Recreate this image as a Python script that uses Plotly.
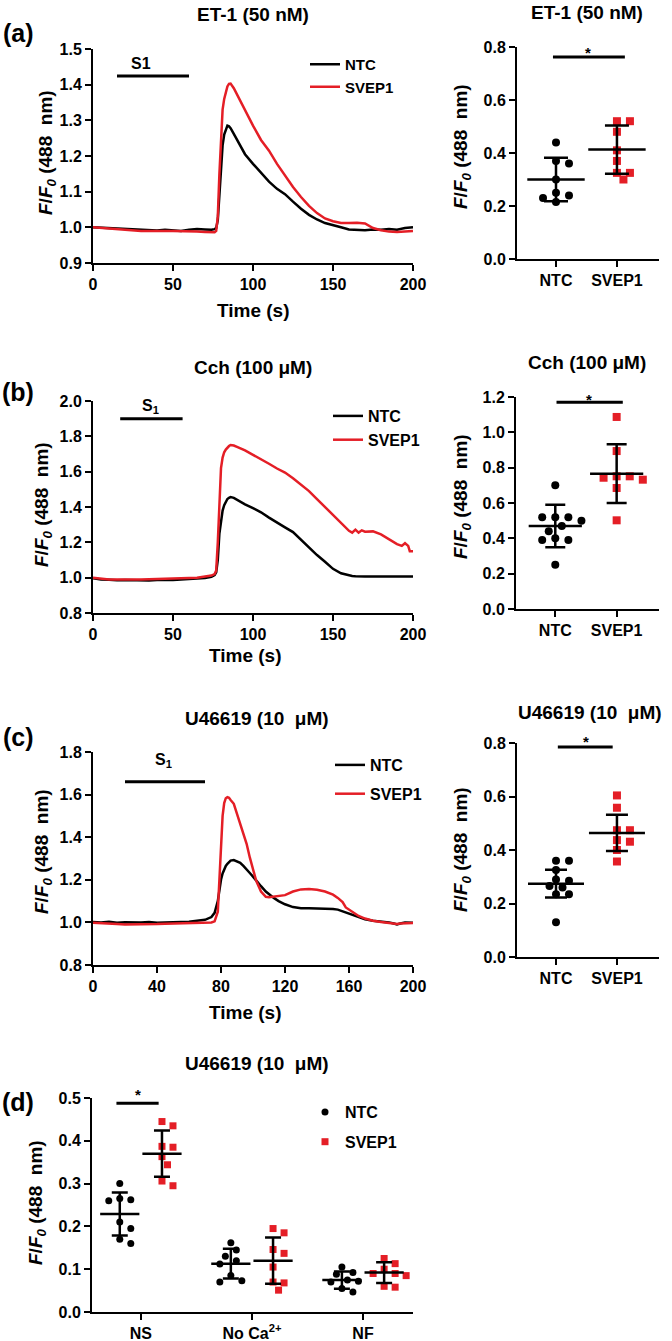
# Calcium traces (a-c) and peak responses (a-d), NTC vs SVEP1
import plotly.graph_objects as go

# ---------------------------------------------------------------------------
# Data
# ---------------------------------------------------------------------------
a_time = [0, 5, 10, 15, 20, 25, 30, 35, 40, 45, 50, 55, 60, 65, 70, 74, 76, 77, 78, 79,
          80, 81, 82, 83, 84, 85, 86, 88, 90, 92, 95, 100, 105, 110, 115, 120, 125, 130,
          135, 140, 145, 150, 155, 160, 165, 170, 175, 180, 185, 190, 195, 200]
a_ntc = [1.000, 0.999, 0.997, 0.997, 0.995, 0.993, 0.992, 0.992, 0.991, 0.993, 0.992,
         0.990, 0.993, 0.995, 0.994, 0.993, 0.995, 0.998, 1.020, 1.100, 1.180, 1.230,
         1.260, 1.275, 1.285, 1.283, 1.278, 1.262, 1.245, 1.228, 1.205, 1.178, 1.152,
         1.128, 1.108, 1.093, 1.072, 1.052, 1.035, 1.022, 1.012, 1.005, 1.000, 0.994,
         0.993, 0.992, 0.994, 0.993, 0.995, 0.993, 0.998, 1.000]
a_svep1 = [1.000, 0.998, 0.996, 0.994, 0.992, 0.991, 0.990, 0.990, 0.989, 0.990, 0.990,
           0.990, 0.989, 0.988, 0.987, 0.985, 0.986, 0.990, 1.030, 1.150, 1.260, 1.330,
           1.360, 1.380, 1.395, 1.402, 1.403, 1.390, 1.372, 1.355, 1.330, 1.285, 1.245,
           1.215, 1.178, 1.145, 1.113, 1.085, 1.060, 1.040, 1.025, 1.017, 1.012, 1.012,
           1.013, 1.011, 0.998, 0.992, 0.988, 0.987, 0.989, 0.990]

b_time = [0, 5, 10, 15, 20, 25, 30, 35, 40, 45, 50, 55, 60, 65, 70, 74, 76, 77, 78, 79,
          80, 81, 82, 83, 84, 85, 86, 88, 90, 92, 95, 100, 105, 110, 115, 120, 125, 130,
          135, 140, 145, 150, 155, 160, 162, 164, 166, 168, 170, 175, 180, 185, 190, 193,
          195, 197, 198, 200]
b_ntc = [0.997, 0.990, 0.988, 0.985, 0.987, 0.985, 0.986, 0.984, 0.987, 0.985, 0.987,
         0.990, 0.992, 0.995, 0.998, 1.005, 1.015, 1.030, 1.100, 1.250, 1.330, 1.380,
         1.410, 1.430, 1.445, 1.452, 1.456, 1.452, 1.440, 1.430, 1.415, 1.394, 1.370,
         1.340, 1.310, 1.285, 1.258, 1.215, 1.170, 1.128, 1.090, 1.050, 1.025, 1.012,
         1.010, 1.008, 1.007, 1.007, 1.007, 1.007, 1.007, 1.006, 1.007, 1.007, 1.006,
         1.007, 1.006, 1.006]
b_svep1 = [1.000, 0.993, 0.990, 0.990, 0.988, 0.990, 0.989, 0.990, 0.992, 0.991, 0.995,
           0.996, 0.998, 1.000, 1.005, 1.012, 1.020, 1.040, 1.200, 1.450, 1.620, 1.680,
           1.710, 1.725, 1.737, 1.745, 1.751, 1.748, 1.740, 1.733, 1.720, 1.695, 1.672,
           1.645, 1.618, 1.595, 1.563, 1.528, 1.490, 1.445, 1.400, 1.350, 1.305, 1.265,
           1.255, 1.272, 1.255, 1.268, 1.260, 1.262, 1.245, 1.215, 1.190, 1.180, 1.195,
           1.180, 1.150, 1.150]

c_time = [0, 5, 10, 15, 20, 25, 30, 35, 40, 45, 50, 55, 60, 65, 70, 74, 76, 78, 79, 80,
          81, 82, 83, 84, 85, 86, 88, 90, 92, 94, 96, 98, 100, 102, 105, 108, 110, 113,
          116, 120, 125, 130, 135, 140, 145, 150, 153, 156, 158, 160, 163, 166, 170, 175,
          180, 185, 188, 190, 192, 195, 200]
c_ntc = [1.002, 1.000, 1.003, 0.998, 1.001, 0.999, 1.000, 1.002, 0.998, 1.000, 1.001,
         1.000, 1.003, 1.008, 1.012, 1.025, 1.045, 1.100, 1.160, 1.200, 1.230, 1.250,
         1.265, 1.275, 1.283, 1.290, 1.293, 1.288, 1.280, 1.265, 1.250, 1.232, 1.215,
         1.195, 1.170, 1.145, 1.132, 1.115, 1.100, 1.085, 1.072, 1.067, 1.066, 1.066,
         1.065, 1.063, 1.060, 1.052, 1.046, 1.040, 1.030, 1.022, 1.015, 1.008, 1.005,
         1.000, 0.995, 0.990, 0.995, 1.000, 0.998]
c_svep1 = [0.998, 0.995, 0.993, 0.992, 0.990, 0.990, 0.992, 0.993, 0.992, 0.994, 0.995,
           0.996, 0.997, 0.998, 1.000, 1.000, 1.005, 1.050, 1.200, 1.380, 1.500, 1.560,
           1.583, 1.588, 1.585, 1.575, 1.557, 1.510, 1.463, 1.415, 1.369, 1.305, 1.243,
           1.195, 1.145, 1.120, 1.118, 1.120, 1.122, 1.128, 1.145, 1.155, 1.157, 1.153,
           1.145, 1.130, 1.115, 1.095, 1.070, 1.060, 1.045, 1.030, 1.018, 1.008, 1.002,
           0.998, 0.996, 0.993, 0.995, 0.997, 0.997]

groups = ['NTC', 'SVEP1']

a_pts_ntc = [0.44, 0.37, 0.36, 0.30, 0.25, 0.24, 0.23, 0.215]
a_pts_svep1 = [0.52, 0.52, 0.48, 0.41, 0.37, 0.325, 0.325, 0.30]
a_mean = [0.300, 0.413]
a_sd = [0.082, 0.091]

b_pts_ntc = [0.70, 0.52, 0.52, 0.52, 0.50, 0.47, 0.44, 0.40, 0.39, 0.39, 0.25]
b_pts_svep1 = [1.087, 0.894, 0.751, 0.751, 0.743, 0.732, 0.685, 0.502]
b_mean = [0.470, 0.766]
b_sd = [0.120, 0.166]

c_pts_ntc = [0.36, 0.36, 0.325, 0.29, 0.285, 0.265, 0.26, 0.235, 0.235, 0.13]
c_pts_svep1 = [0.604, 0.558, 0.474, 0.474, 0.437, 0.431, 0.40, 0.357]
c_mean = [0.274, 0.464]
c_sd = [0.052, 0.068]

d_conditions = ['NS', 'No Ca<sup>2+</sup>', 'NF']
d_pts_ntc = [
    [0.30, 0.265, 0.262, 0.26, 0.21, 0.195, 0.17, 0.16],
    [0.162, 0.145, 0.13, 0.12, 0.112, 0.085, 0.073, 0.07],
    [0.105, 0.092, 0.088, 0.075, 0.072, 0.07, 0.055, 0.047],
]
d_pts_svep1 = [
    [0.445, 0.435, 0.387, 0.385, 0.363, 0.344, 0.306, 0.295],
    [0.195, 0.185, 0.146, 0.137, 0.105, 0.070, 0.068, 0.051],
    [0.125, 0.113, 0.10, 0.09, 0.09, 0.085, 0.06, 0.058],
]
d_mean_ntc = [0.229, 0.113, 0.0745]
d_sd_ntc = [0.050, 0.035, 0.020]
d_mean_svep1 = [0.370, 0.120, 0.092]
d_sd_svep1 = [0.054, 0.054, 0.024]

# ---------------------------------------------------------------------------
# Helpers
# ---------------------------------------------------------------------------
W, H = 672, 1341
BLACK = '#000000'
RED = '#E41E26'
FONT = 'Liberation Sans, Arial, sans-serif'


def px(x):
    return x / W


def py(y):
    return 1 - y / H


def spread(vals, y_px, step, gap):
    # simple beeswarm: put each dot as close to the centre as it fits
    pts = []
    for v in vals:
        y = v * y_px
        for k in [0, 1, -1, 2, -2, 3, -3, 4, -4, 5, -5]:
            x = k * step
            if all((x - a) ** 2 + (y - b) ** 2 >= gap ** 2 for a, b in pts):
                break
        pts.append((x, y))
    return [a for a, b in pts]


axis_common = dict(
    showline=True, linecolor=BLACK, linewidth=2, ticks='outside', ticklen=6,
    tickwidth=2, tickcolor=BLACK, showgrid=False, zeroline=False, automargin=False,
    tickfont=dict(size=16, family=FONT, color=BLACK, weight='bold'),
)

fig = go.Figure()

# panel geometry in page pixels: (x0, x1, ytop, ybottom)
geom = {
    1: (93, 413, 49, 263),
    2: (517, 659, 47, 259),
    3: (93, 413, 401, 613),
    4: (516, 659, 397, 609),
    5: (93, 413, 752, 965),
    6: (517, 659, 743, 957),
    7: (92, 413, 1098, 1312),
}
y_ranges = {1: [0.9, 1.5], 2: [0, 0.8], 3: [0.8, 2.0], 4: [0, 1.2],
            5: [0.8, 1.8], 6: [0, 0.8], 7: [0, 0.5]}
y_dticks = {1: 0.1, 2: 0.2, 3: 0.2, 4: 0.2, 5: 0.2, 6: 0.2, 7: 0.1}

layout_axes = {}
for i, (x0, x1, yt, yb) in geom.items():
    xa = 'xaxis' if i == 1 else f'xaxis{i}'
    ya = 'yaxis' if i == 1 else f'yaxis{i}'
    layout_axes[xa] = dict(axis_common, domain=[px(x0), px(x1)],
                           anchor='y' if i == 1 else f'y{i}')
    layout_axes[ya] = dict(axis_common, domain=[py(yb), py(yt)],
                           anchor='x' if i == 1 else f'x{i}',
                           range=y_ranges[i], dtick=y_dticks[i], tickformat='.1f')

for i, dt in [(1, 50), (3, 50), (5, 40)]:
    xa = 'xaxis' if i == 1 else f'xaxis{i}'
    layout_axes[xa].update(range=[0, 200], dtick=dt)
for i in (2, 4, 6):
    layout_axes[f'xaxis{i}'].update(range=[-0.64, 1.69], tickvals=[0, 1], ticktext=groups)
layout_axes['xaxis7'].update(range=[-0.44, 2.45], tickvals=[0, 1, 2], ticktext=d_conditions)

# ---------------------------------------------------------------------------
# Traces: time courses
# ---------------------------------------------------------------------------
for (t, ntc, sv, xr, yr, leg) in [
    (a_time, a_ntc, a_svep1, 'x', 'y', 'legend'),
    (b_time, b_ntc, b_svep1, 'x3', 'y3', 'legend2'),
    (c_time, c_ntc, c_svep1, 'x5', 'y5', 'legend3'),
]:
    grp = leg if leg in ('legend', 'legend2') else None
    fig.add_trace(go.Scatter(x=t, y=ntc, mode='lines', name='NTC', legend=leg,
                             legendgroup=grp or leg + 'n',
                             line=dict(color=BLACK, width=2.5), xaxis=xr, yaxis=yr))
    fig.add_trace(go.Scatter(x=t, y=sv, mode='lines', name='SVEP1', legend=leg,
                             legendgroup=grp or leg + 's',
                             line=dict(color=RED, width=2.5), xaxis=xr, yaxis=yr))

# ---------------------------------------------------------------------------
# Traces: dot plots with mean +/- SD
# ---------------------------------------------------------------------------
for (pn, ps, mean, sd, xr, yr, ypx, mw, cw) in [
    (a_pts_ntc, a_pts_svep1, a_mean, a_sd, 'x2', 'y2', 265, 41, 12),
    (b_pts_ntc, b_pts_svep1, b_mean, b_sd, 'x4', 'y4', 177, 38, 10),
    (c_pts_ntc, c_pts_svep1, c_mean, c_sd, 'x6', 'y6', 266, 40, 11),
]:
    for gi, (vals, col, sym) in enumerate([(pn, BLACK, 'circle'), (ps, RED, 'square')]):
        offs = spread(vals, ypx, 6.5, 9)
        fig.add_trace(go.Scatter(
            x=[gi + o / 61 for o in offs], y=vals, mode='markers', showlegend=False,
            marker=dict(symbol=sym, size=8, color=col), xaxis=xr, yaxis=yr))
    fig.add_trace(go.Scatter(
        x=[0, 1], y=mean, mode='markers', showlegend=False,
        marker=dict(symbol='line-ew', size=mw, line=dict(width=2.5, color=BLACK)),
        error_y=dict(type='data', array=sd, width=cw, thickness=2.5, color=BLACK),
        xaxis=xr, yaxis=yr))

# panel d
for (pts, means, sds, col, sym, name, shift) in [
    (d_pts_ntc, d_mean_ntc, d_sd_ntc, BLACK, 'circle', 'NTC', -0.19),
    (d_pts_svep1, d_mean_svep1, d_sd_svep1, RED, 'square', 'SVEP1', 0.19),
]:
    xs, ys = [], []
    for ci, vals in enumerate(pts):
        offs = spread(vals, 427, 5.5, 9)
        xs += [ci + shift + o / 111 for o in offs]
        ys += vals
    fig.add_trace(go.Scatter(x=xs, y=ys, mode='markers', name=name, legend='legend4',
                             legendgroup='d' + name,
                             marker=dict(symbol=sym, size=7, color=col),
                             xaxis='x7', yaxis='y7'))
    fig.add_trace(go.Scatter(
        x=[ci + shift for ci in range(3)], y=means, mode='markers', showlegend=False,
        marker=dict(symbol='line-ew', size=28, line=dict(width=2.5, color=BLACK)),
        error_y=dict(type='data', array=sds, width=8, thickness=2.5, color=BLACK),
        xaxis='x7', yaxis='y7'))

# ---------------------------------------------------------------------------
# Annotations, stimulus bars and significance bars
# ---------------------------------------------------------------------------
ann = []


def txt(x, y, s, size, xref='paper', yref='paper', **kw):
    ann.append(dict(x=x, y=y, xref=xref, yref=yref, text=s, showarrow=False,
                    xanchor='center', yanchor='middle',
                    font=dict(size=size, family=FONT, color=BLACK, weight='bold'), **kw))


ytitle = '<i>F</i>/<i>F</i><sub><i>0</i></sub> (488  nm)'
# panel titles
txt(px(253), py(15), 'ET-1 (50 nM)', 19)
txt(px(587), py(13), 'ET-1 (50 nM)', 19)
txt(px(253), py(367), 'Cch (100 μM)', 19)
txt(px(587), py(362), 'Cch (100 μM)', 19)
txt(px(257), py(718), 'U46619 (10  μM)', 19)
txt(px(590), py(712), 'U46619 (10  μM)', 19)
txt(px(257), py(1063), 'U46619 (10  μM)', 19)
# panel letters
for s, y in [('(a)', 33), ('(b)', 392), ('(c)', 737), ('(d)', 1102)]:
    txt(px(18), py(y), s, 25)
# y titles
for x, y in [(47, 153), (462, 147), (43, 505), (462, 497), (43, 852), (462, 850), (37, 1203)]:
    txt(px(x), py(y), ytitle, 19, textangle=-90)
# x titles
for x, y in [(253, 310), (245, 655), (245, 1012)]:
    txt(px(x), py(y), 'Time (s)', 19)

# stimulus labels
txt(30, 1.46, 'S1', 16, xref='x', yref='y')
txt(36, 1.97, 'S<sub>1</sub>', 16, xref='x3', yref='y3')
txt(44, 1.76, 'S<sub>1</sub>', 16, xref='x5', yref='y5')
# significance stars
for x, y in [(588, 53), (589, 399), (586, 741), (138, 1094)]:
    txt(px(x), py(y), '*', 15)

shapes = []
for (x0, x1, y, xr, yr) in [
    (15, 60, 1.424, 'x', 'y'),
    (17, 56, 1.90, 'x3', 'y3'),
    (20, 70, 1.66, 'x5', 'y5'),
    (-0.05, 1.13, 0.762, 'x2', 'y2'),
    (0.02, 1.10, 1.17, 'x4', 'y4'),
    (0.03, 0.93, 0.785, 'x6', 'y6'),
    (-0.22, 0.16, 0.488, 'x7', 'y7'),
]:
    shapes.append(dict(type='line', x0=x0, x1=x1, y0=y, y1=y, xref=xr, yref=yr,
                       line=dict(color=BLACK, width=3)))

leg_common = dict(xanchor='left', yanchor='top', bgcolor='rgba(0,0,0,0)',
                  font=dict(size=16, family=FONT, color=BLACK, weight='bold'),
                  itemwidth=30)

fig.update_layout(
    width=W, height=H,
    margin=dict(l=0, r=0, t=0, b=0),
    paper_bgcolor='white', plot_bgcolor='white',
    font=dict(family=FONT, color=BLACK, size=16, weight='bold'),
    annotations=ann, shapes=shapes,
    legend=dict(leg_common, x=px(305), y=py(48), tracegroupgap=0,
                font=dict(size=15, family=FONT, color=BLACK, weight='bold')),
    legend2=dict(leg_common, x=px(328), y=py(399), tracegroupgap=0),
    legend3=dict(leg_common, x=px(330), y=py(748), tracegroupgap=5),
    legend4=dict(leg_common, x=px(305), y=py(1095), tracegroupgap=6),
    **layout_axes,
)

# drop the default 8px body margin so the figure fills the page exactly
fig.write_html('out.html', config={'displayModeBar': False},
               post_script="document.body.style.margin = '0';")
